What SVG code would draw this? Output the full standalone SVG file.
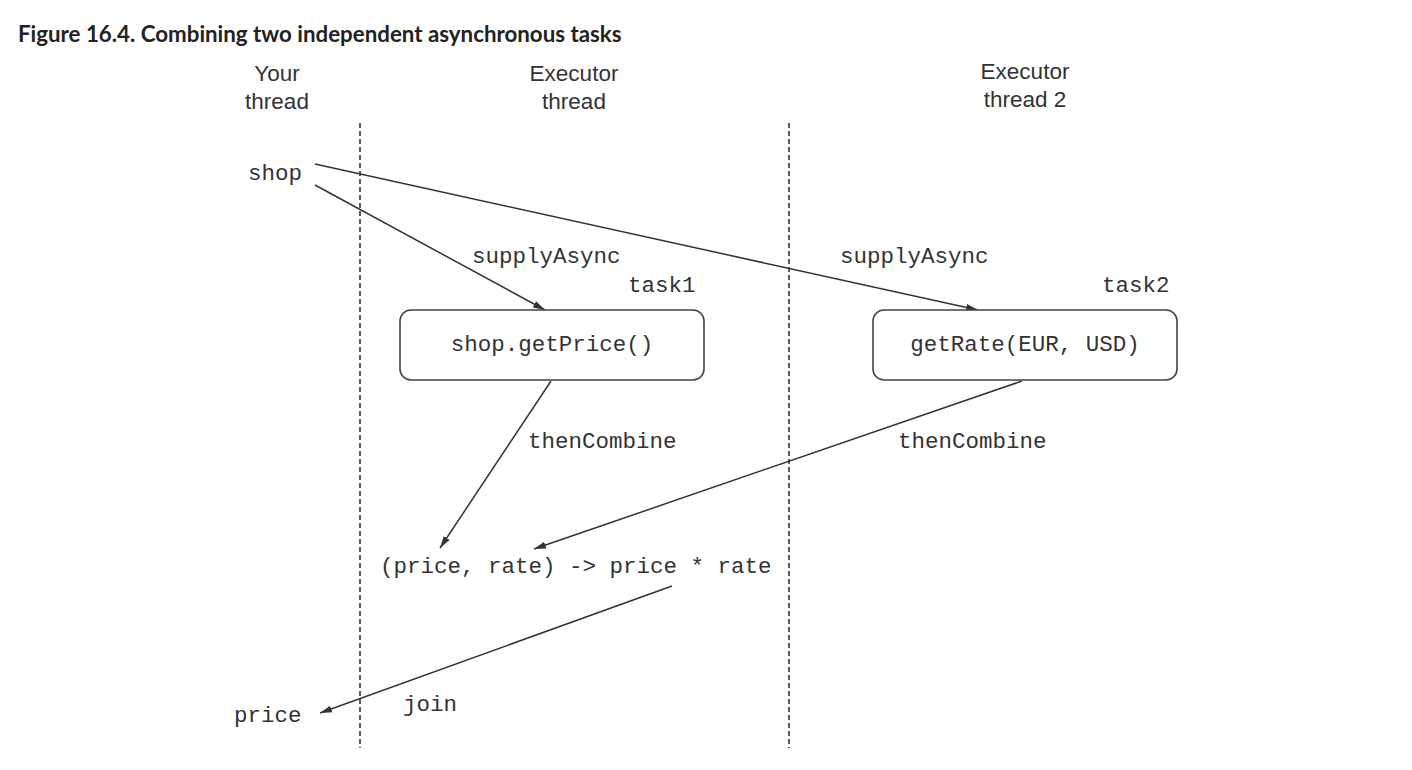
<svg xmlns="http://www.w3.org/2000/svg" width="1412" height="770" viewBox="0 0 1412 770">
<style>
.title{font-family:Lato,"Liberation Sans",sans-serif;font-weight:bold;font-size:22.3px;fill:#222}
.hdr{font-family:"Liberation Sans",Arial,sans-serif;font-size:22.5px;fill:#333;text-anchor:middle}
.mono{font-family:"Liberation Mono","Courier New",monospace;font-size:22.5px;fill:#333}
.mid{text-anchor:middle}
.lane{stroke:#333;stroke-width:1.6;stroke-dasharray:5,3;fill:none}
.box{fill:#fff;stroke:#444;stroke-width:1.6}
.conn{stroke:#333;stroke-width:1.5;fill:none;marker-end:url(#ah)}
</style>
<defs>
<marker id="ah" viewBox="0 0 12 8" refX="12" refY="4" markerWidth="12" markerHeight="8" markerUnits="userSpaceOnUse" orient="auto">
<path d="M0,0.5 L12,4 L0,7.5 Z" fill="#333"/>
</marker>
</defs>
<rect width="1412" height="770" fill="#fff"/>
<text class="title" x="18" y="42">Figure 16.4. Combining two independent asynchronous tasks</text>
<g id="lanes">
<text class="hdr" x="277" y="81">Your</text>
<text class="hdr" x="277" y="109">thread</text>
<text class="hdr" x="574" y="81">Executor</text>
<text class="hdr" x="574" y="109">thread</text>
<text class="hdr" x="1025" y="79">Executor</text>
<text class="hdr" x="1025" y="107">thread 2</text>
<line class="lane" x1="360" y1="123" x2="360" y2="748"/>
<line class="lane" x1="789" y1="123" x2="789" y2="748"/>
</g>
<g id="connectors">
<line class="conn" x1="315" y1="185" x2="545" y2="310"/>
<line class="conn" x1="315" y1="164" x2="978" y2="310"/>
<line class="conn" x1="551" y1="381" x2="440" y2="548"/>
<line class="conn" x1="1022" y1="381" x2="534" y2="549"/>
<line class="conn" x1="672" y1="586" x2="320" y2="713"/>
<text class="mono" x="472" y="263">supplyAsync</text>
<text class="mono" x="628" y="292">task1</text>
<text class="mono" x="840" y="263">supplyAsync</text>
<text class="mono" x="1102" y="292">task2</text>
<text class="mono" x="528" y="448">thenCombine</text>
<text class="mono" x="898" y="448">thenCombine</text>
<text class="mono" x="403" y="711">join</text>
</g>
<g id="shop"><text class="mono" x="248" y="180">shop</text></g>
<g id="task1"><rect class="box" x="400" y="310" width="304" height="70" rx="11"/><text class="mono mid" x="552" y="351">shop.getPrice()</text></g>
<g id="task2"><rect class="box" x="873" y="310" width="304" height="70" rx="11"/><text class="mono mid" x="1025" y="351">getRate(EUR, USD)</text></g>
<g id="combine"><text class="mono" x="380" y="573">(price, rate) -&gt; price * rate</text></g>
<g id="price"><text class="mono" x="234" y="722">price</text></g>
</svg>
